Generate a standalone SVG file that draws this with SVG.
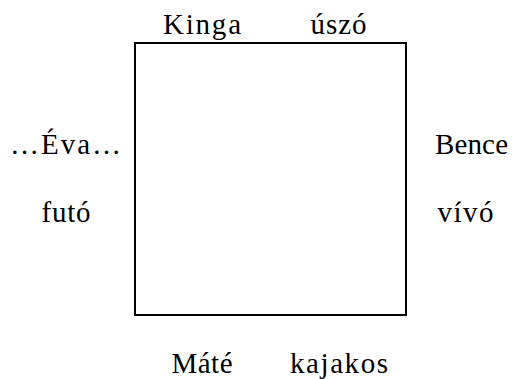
<svg xmlns="http://www.w3.org/2000/svg" width="518" height="379" viewBox="0 0 518 379">
<style>
text{font-family:"Liberation Serif","Times New Roman",serif;font-size:29px;fill:#000}
.box{fill:none;stroke:#000;stroke-width:2}
</style>
<rect width="518" height="379" fill="#fff"/>
<g id="square"><rect class="box" x="135" y="43" width="271" height="272"/></g>
<g id="connectors"></g>
<g id="kinga"><text x="163" y="34.3" textLength="78" lengthAdjust="spacing">Kinga</text></g>
<g id="uszo"><text x="310.5" y="34.3" textLength="56" lengthAdjust="spacing">úszó</text></g>
<g id="eva"><text x="10" y="154.3" textLength="111" lengthAdjust="spacing">…Éva…</text></g>
<g id="bence"><text x="435" y="154.3" textLength="73" lengthAdjust="spacing">Bence</text></g>
<g id="futo"><text x="41.5" y="222.3" textLength="49" lengthAdjust="spacing">futó</text></g>
<g id="vivo"><text x="437.5" y="222.3" textLength="56" lengthAdjust="spacing">vívó</text></g>
<g id="mate"><text x="171.5" y="373.3" textLength="61" lengthAdjust="spacing">Máté</text></g>
<g id="kajakos"><text x="290" y="373.3" textLength="98" lengthAdjust="spacing">kajakos</text></g>
</svg>
